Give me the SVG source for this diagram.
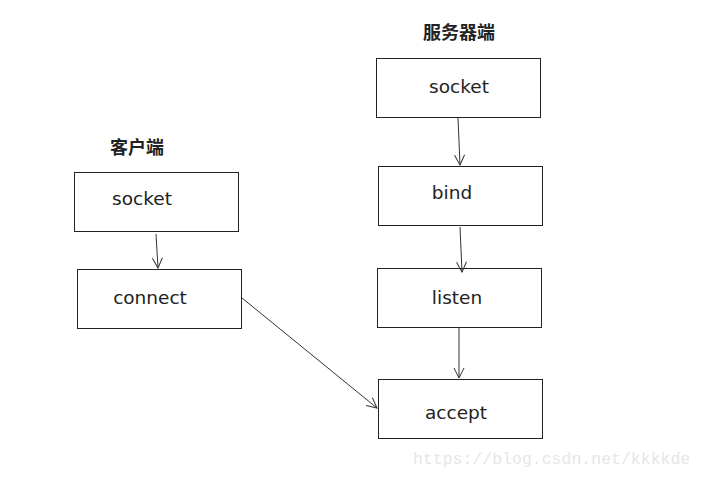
<svg xmlns="http://www.w3.org/2000/svg" width="704" height="477" viewBox="0 0 704 477">
<defs>
<marker id="arr" viewBox="0 0 12 12" refX="11" refY="6" markerWidth="12" markerHeight="12" markerUnits="userSpaceOnUse" orient="auto">
<path d="M1,1 L11,6 L1,11" fill="none" stroke="#333" stroke-width="1"/>
</marker>
</defs>
<style>
.box{fill:#fff;stroke:#222;stroke-width:1}
.lbl{font-family:"DejaVu Sans",sans-serif;font-size:18.5px;fill:#222}
.ttl{font-family:"Noto Sans CJK SC",sans-serif;font-size:18px;font-weight:bold;fill:#222}
.edge{stroke:#333;stroke-width:1;fill:none;marker-end:url(#arr)}
</style>
<rect width="704" height="477" fill="#fff"/>
<text class="ttl" x="459" y="39" text-anchor="middle">服务器端</text>
<text class="ttl" x="137" y="154" text-anchor="middle">客户端</text>
<g id="s_socket"><rect class="box" x="376.5" y="58.5" width="164" height="59"/><text class="lbl" x="459" y="93" text-anchor="middle">socket</text></g>
<g id="bind"><rect class="box" x="378.5" y="166.5" width="164" height="59"/><text class="lbl" x="452" y="199" text-anchor="middle">bind</text></g>
<g id="listen"><rect class="box" x="377.5" y="268.5" width="164" height="59"/><text class="lbl" x="457" y="304" text-anchor="middle">listen</text></g>
<g id="accept"><rect class="box" x="378.5" y="379.5" width="164" height="59"/><text class="lbl" x="456" y="419" text-anchor="middle">accept</text></g>
<g id="c_socket"><rect class="box" x="74.5" y="172.5" width="164" height="59"/><text class="lbl" x="142" y="205" text-anchor="middle">socket</text></g>
<g id="connect"><rect class="box" x="77.5" y="269.5" width="164" height="59"/><text class="lbl" x="150" y="304" text-anchor="middle">connect</text></g>
<g id="edges">
<line class="edge" x1="156" y1="234" x2="158" y2="268"/>
<line class="edge" x1="458" y1="118" x2="460" y2="165"/>
<line class="edge" x1="460" y1="227" x2="462" y2="272"/>
<line class="edge" x1="459" y1="327" x2="459" y2="378" stroke="#777"/>
<line class="edge" x1="242" y1="298" x2="377" y2="408"/>
</g>
<text x="413" y="464" font-family="Liberation Mono,monospace" font-size="16.5" fill="#e6e6e6">https://blog.csdn.net/kkkkde</text>
</svg>
